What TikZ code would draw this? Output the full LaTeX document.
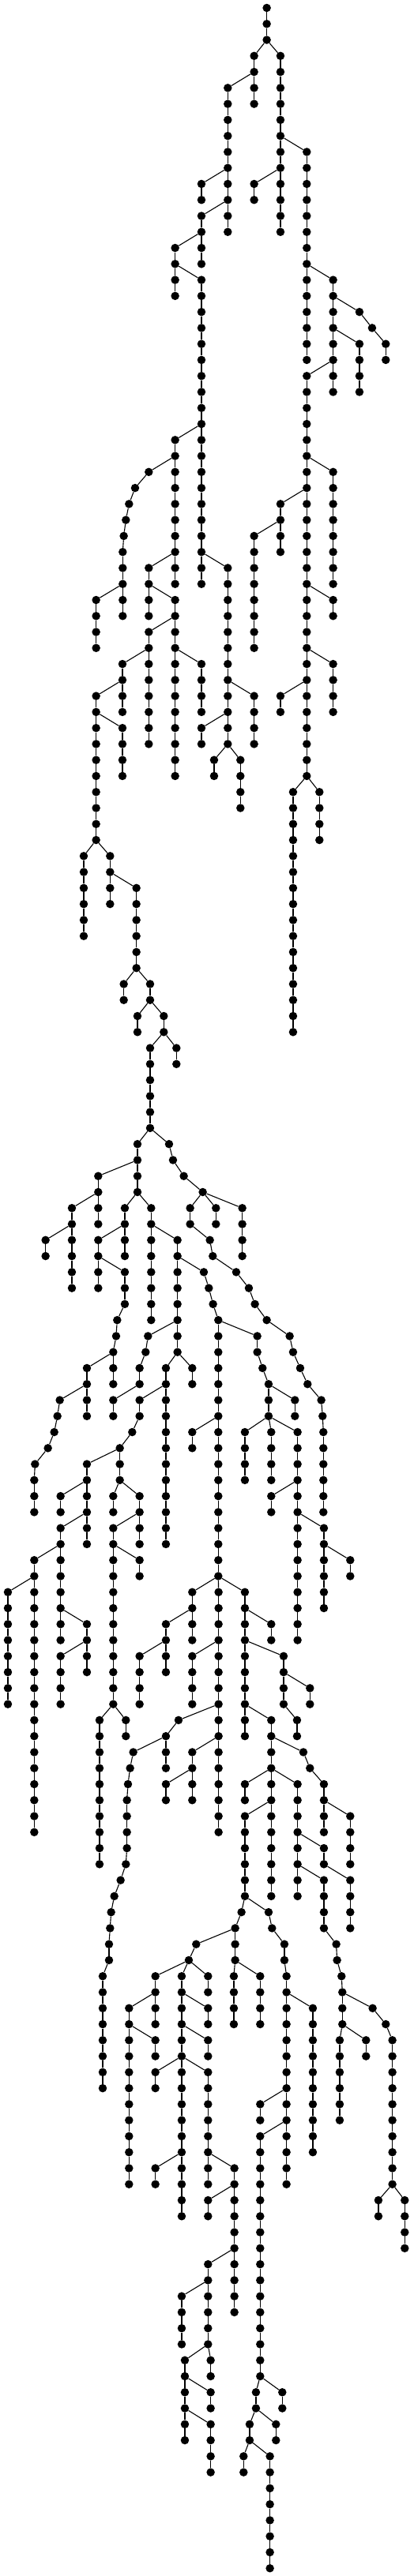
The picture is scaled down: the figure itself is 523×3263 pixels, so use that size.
\documentclass[tikz,border=0pt]{standalone}
\begin{document}
\begin{tikzpicture}[x=0.3333pt, y=-20.27pt,
        dot/.style={circle, fill=black, inner sep=0pt, minimum size=10.5pt},
        edge/.style={line width=1.1pt}]
    \useasboundingbox (0pt,10pt) rectangle (523pt,-3253pt);
    \node[dot] (R-0) at (1013,0) {};
    \foreach \nm/\xx/\ra/\rb/\up in {
        R/1013/1/2/R-0, B/965/3/6/R-2, C/1065/3/14/R-2, D/1165/9/22/C-8,
        E/965/11/12/C-10, F/865/5/14/B-4, G/765/11/12/F-10, H/765/13/16/F-12,
        I/665/15/18/H-14, J/765/17/36/I-16, K/1265/17/24/D-16,
        L/1365/19/19/K-18, L/1413/20/20/L-19, L/1465/21/22/L-20,
        M/1365/21/24/K-20, N/1165/23/48/K-22, O/665/27/36/J-26,
        P/565/29/29/O-28, P/513/30/30/P-29, P/490/31/31/P-30, P/478/32/32/P-31,
        P/470/33/33/P-32, P/466/34/38/P-33,
        Q/365/37/40/P-36, S/565/35/38/O-34, T/665/37/48/S-36, U/565/39/46/T-38,
        V/765/41/44/T-40, W/865/35/46/J-34, X/1265/29/36/N-28, Y/1065/31/34/N-30,
        Z/965/33/40/Y-32, Aa/1265/37/38/N-36, Ab/1265/41/44/N-40, Ac/1065/43/44/N-42,
        Ad/1113/49/64/N-48, Ae/1213/49/52/N-48, Af/465/41/44/U-40, Ag/365/43/52/Af-42,
        Ah/465/45/48/Ag-44, Ai/965/43/46/W-42, Aj/765/45/46/W-44, Ak/813/47/48/W-46,
        Al/913/47/50/W-46, Am/318/53/58/Ag-52, An/418/53/56/Ag-52, Ao/518/55/60/An-54,
        Ap/470/61/62/Ao-60, Aq/570/61/62/Ao-60, Ar/522/63/64/Aq-62, As/622/63/64/Aq-62,
        At/570/65/70/As-64, Au/670/65/66/As-64, Ba/522/71/74/At-70,
        Bb/642/71/71/At-70, Bb/657/72/72/Bb-71, Bb/698/73/73/Bb-72, Bb/770/74/74/Bb-73,
        Bc/373/73/76/Ba-72, Bd/273/75/80/Bc-74, Be/173/77/78/Bd-76, Bf/474/75/78/Ba-74,
        Bg/373/77/80/Bf-76,
        Bh/474/79/81/Bg-78, Bh/445/82/82/Bh-81, Bh/441/83/83/Bh-82, Bh/430/84/86/Bh-83,
        Bi/574/75/82/Ba-74, Bj/674/77/84/Bi-76,
        Bk/774/79/79/Bj-78, Bk/793/80/80/Bk-79, Bk/809/81/81/Bk-80, Bk/829/82/98/Bk-81,
        Bl/722/75/76/Bb-74, Bl/797/77/77/Bl-76, Bl/808/78/78/Bl-77, Bl/897/79/79/Bl-78,
        Bl/945/80/80/Bl-79, Bl/968/81/81/Bl-80, Bl/1013/82/82/Bl-81, Bl/1100/83/83/Bl-82,
        Bl/1113/84/84/Bl-83, Bl/1140/85/85/Bl-84, Bl/1168/86/86/Bl-85, Bl/1220/87/87/Bl-86,
        Bl/1225/88/88/Bl-87, Bl/1228/89/94/Bl-88,
        Bm/820/75/76/Bb-74, Bn/920/75/78/Bb-74, Bo/330/85/88/Bh-84,
        Bp/227/87/87/Bo-86, Bp/218/88/88/Bp-87, Bp/206/89/89/Bp-88, Bp/182/90/90/Bp-89,
        Bp/133/91/91/Bp-90, Bp/130/92/94/Bp-91,
        Bq/562/83/83/Bj-82, Bq/553/84/84/Bq-83, Bq/530/85/86/Bq-84,
        Br/430/87/88/Bq-86, Bs/630/85/96/Bj-84, Bt/730/85/86/Bj-84,
        Bu/530/87/88/Bs-86, Bu/502/89/89/Bu-88, Bu/455/90/92/Bu-89,
        Bv/330/91/96/Bu-90, Bw/230/93/94/Bv-92, Bx/230/95/102/Bv-94, By/430/93/94/Bu-92,
        Bz/530/93/96/Bu-92, Ca/430/95/106/Bz-94, Cb/530/97/98/Ca-96, Cc/130/97/114/Bx-96,
        Cd/30/99/106/Cc-98, Ce/330/101/104/Bx-100, Cf/230/103/106/Ce-102, Cg/730/89/90/Bk-88,
        Ch/977/83/84/Bk-82, Ch/997/85/85/Ch-84, Ch/1020/86/88/Ch-85,
        Ci/1120/87/88/Ch-86, Cj/930/89/92/Ch-88, Ck/1030/89/92/Ch-88, Cl/1130/89/102/Ch-88,
        Cm/1030/93/94/Cl-92, Cn/1230/95/100/Cl-94, Co/1330/97/98/Cn-96,
        Cp/730/99/102/Bk-98, Cq/830/99/114/Bk-98, Cr/930/99/108/Bk-98,
        Cs/630/101/104/Cp-100, Ct/530/103/106/Cs-102, Cu/730/103/106/Cq-102,
        Cv/1030/101/102/Cr-100, Cw/1077/103/106/Cr-102, Cx/1177/105/106/Cw-104,
        Cy/1128/107/108/Cw-106, Cz/378/107/116/Ca-106, Da/478/107/108/Ca-106,
        Db/678/107/107/Cq-106, Db/630/108/110/Db-107,
        Dc/506/109/109/Db-108, Dc/494/110/110/Dc-109, Dc/486/111/111/Dc-110,
        Dc/482/112/115/Dc-111, Dc/478/116/116/Dc-115, Dc/458/117/117/Dc-116,
        Dc/434/118/118/Dc-117, Dc/422/119/119/Dc-118, Dc/418/120/120/Dc-119,
        Dc/414/121/122/Dc-120, Dc/390/123/130/Dc-122,
        Dd/730/109/112/Cq-108, De/630/111/112/Dd-110, Df/1030/107/118/Cr-106,
        Dg/1152/109/109/Df-108, Dg/1177/110/110/Dg-109, Dg/1230/111/114/Dg-110,
        Dh/1330/113/116/Dg-112, Di/930/111/112/Df-110, Dj/1130/111/118/Df-110,
        Dk/930/113/118/Df-112, Dl/1230/115/116/Dj-114, Dm/1330/117/120/Dl-116,
        Dn/1230/117/120/Dj-116, Dn/1277/121/121/Dn-120, Dn/1280/122/122/Dn-121,
        Dn/1297/123/123/Dn-122, Dn/1300/124/126/Dn-123,
        Do/1290/127/132/Dn-126, Dp/1390/127/128/Dn-126,
        Dq/1415/125/125/Dn-124, Dq/1465/126/126/Dq-125, Dq/1490/127/136/Dq-126,
        Dr/1437/137/138/Dq-136, Ds/1537/137/140/Dq-136,
        Dt/917/119/119/Dk-118, Dt/893/120/122/Dt-119,
        Du/888/123/126/Dt-122, Dv/988/123/126/Dt-122,
        Dw/1020/119/119/Dk-118, Dw/1033/120/120/Dw-119, Dw/1080/121/122/Dw-120,
        Dw/1088/123/136/Dw-122,
        Dx/1188/125/134/Dw-124, Dy/988/131/132/Dw-130,
        Dz/988/133/148/Dw-132, Dz/972/149/150/Dz-148, Dz/948/151/152/Dz-150,
        Dz/925/153/154/Dz-152,
        Ea/1072/149/150/Dz-148, Eb/1048/151/152/Dz-150, Ec/1025/153/160/Dz-152,
        Ed/745/121/121/Dt-120, Ed/717/122/122/Ed-121,
        Ee/590/123/126/Ed-122, Ef/690/123/138/Ed-122, Eg/790/123/124/Ed-122,
        Eh/490/125/136/Ee-124, Ei/590/127/128/Eh-126, Ej/790/125/126/Ef-124,
        Ek/790/127/128/Ef-126, El/590/129/130/Ef-128, Em/790/129/136/Ef-128,
        En/590/135/136/Ef-134, Eo/890/135/144/Em-134, Ep/790/137/138/Eo-136,
        Eq/790/141/146/Eo-140, Er/690/143/146/Eq-142, Es/702/147/152/Eq-146,
        Et/800/147/148/Eq-146, Eu/800/149/150/Es-148, Ev/800/151/154/Es-150}{
        \foreach \rw in {\ra,...,\rb}{
            \node[dot] (\nm-\rw) at (\xx,\rw) {};
        }
        \draw[edge] (\up) -- (\nm-\ra);
        \ifnum\ra<\rb
            \pgfmathtruncatemacro\nxt{\ra+1}
            \foreach \rw in {\nxt,...,\rb}{
                \pgfmathtruncatemacro\prv{\rw-1}
                \draw[edge] (\nm-\prv) -- (\nm-\rw);
            }
        \fi
    }
\end{tikzpicture}
\end{document}
